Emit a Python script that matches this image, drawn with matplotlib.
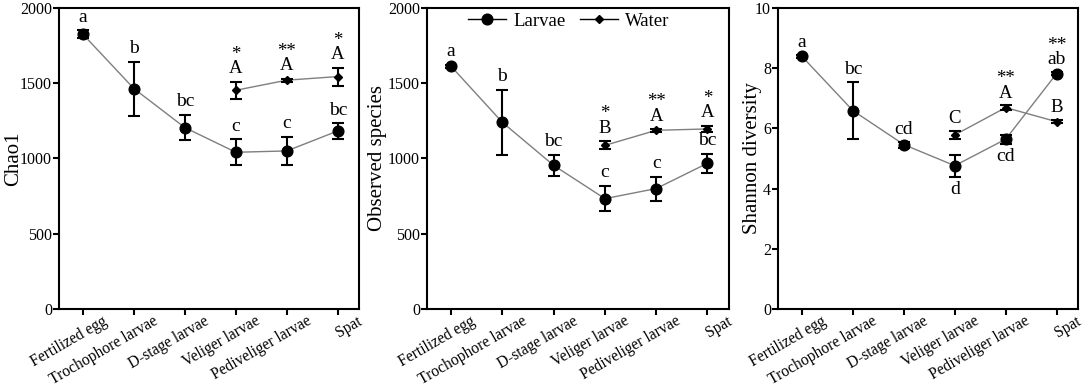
import matplotlib
matplotlib.use("Agg")
import matplotlib.pyplot as plt
import matplotlib.transforms as mtransforms
from matplotlib.lines import Line2D

plt.rcParams["font.family"] = ["Liberation Serif", "DejaVu Serif"]

stages = ["Fertilized egg", "Trochophore larvae", "D-stage larvae",
          "Veliger larvae", "Pediveliger larvae", "Spat"]
water_idx = [3, 4, 5]

# Chao1
chao_larvae = [1825, 1464, 1205, 1041, 1050, 1183]
chao_larvae_err = [25, 180, 85, 85, 95, 52]
chao_water = [1453, 1520, 1544]
chao_water_err = [55, 10, 60]
chao_larvae_lbl = ["a", "b", "bc", "c", "c", "bc"]
chao_water_lbl = ["*\nA", "**\nA", "*\nA"]

# Observed species
obs_larvae = [1612, 1240, 954, 733, 800, 968]
obs_larvae_err = [10, 215, 70, 85, 80, 62]
obs_water = [1087, 1187, 1196]
obs_water_err = [27, 8, 20]
obs_larvae_lbl = ["a", "b", "bc", "c", "c", "bc"]
obs_water_lbl = ["*\nB", "**\nA", "*\nA"]

# Shannon
sh_larvae = [8.39, 6.59, 5.46, 4.76, 5.64, 7.82]
sh_larvae_err = [0.06, 0.95, 0.1, 0.37, 0.15, 0.05]
sh_water = [5.78, 6.69, 6.22]
sh_water_err = [0.12, 0.07, 0.05]
sh_larvae_lbl = ["a", "bc", "cd", "d", "cd", "**\nab"]
sh_larvae_below = [False, False, False, True, True, False]
sh_water_lbl = ["C", "**\nA", "B"]

LINE_C = "#7f7f7f"


def panel(ax, ylab, ymax, ystep, larv, larv_e, wat, wat_e, llbl, wlbl, below=None, off=0.0):
    x = list(range(len(stages)))
    ax.plot(x, larv, color=LINE_C, lw=1.0, zorder=1)
    ax.errorbar(x, larv, yerr=larv_e, fmt="o", color="black", ms=7.7, elinewidth=1.5,
                capsize=4, capthick=1.5, zorder=3)
    ax.plot(water_idx, wat, color=LINE_C, lw=1.0, zorder=1)
    ax.errorbar(water_idx, wat, yerr=wat_e, fmt="D", color="black", ms=4.5, elinewidth=1.5,
                capsize=4, capthick=1.5, zorder=3)
    below = below or [False] * len(stages)
    for i in x:
        if below[i]:
            ax.text(i, larv[i] - larv_e[i] - off, llbl[i], ha="center", va="top",
                    fontsize=14, linespacing=0.8)
        else:
            ax.text(i, larv[i] + larv_e[i] + off, llbl[i], ha="center", va="bottom",
                    fontsize=14, linespacing=0.8)
    for j, i in enumerate(water_idx):
        ax.text(i, wat[j] + wat_e[j] + off, wlbl[j], ha="center", va="bottom",
                fontsize=13.5, linespacing=0.8)
    ax.set_xlim(-0.47, 5.42)
    ax.set_ylim(0, ymax)
    ax.set_yticks([v * ystep for v in range(int(ymax / ystep) + 1)])
    ax.set_xticks(x)
    ax.set_xticklabels([])
    # rotated category labels, right end a bit past the tick (as in the original)
    tr = ax.get_xaxis_transform() + mtransforms.ScaledTranslation(
        0.19, -0.04, ax.figure.dpi_scale_trans)
    for i, s in zip(x, stages):
        ax.text(i, 0, s, transform=tr, rotation=30, ha="right", va="top",
                rotation_mode="anchor", fontsize=11.2)
    ax.tick_params(axis="y", labelsize=11.5, width=1.5, length=4, direction="out", pad=1)
    ax.tick_params(axis="x", width=1.5, length=4, direction="out")
    for sp in ax.spines.values():
        sp.set_linewidth(1.5)
    ax.set_ylabel(ylab, fontsize=15)


fig = plt.figure(figsize=(10.84, 3.86), dpi=100)
ax1 = fig.add_axes([0.0544, 0.1995, 0.277, 0.780])
ax2 = fig.add_axes([0.3939, 0.1995, 0.2786, 0.780])
ax3 = fig.add_axes([0.7177, 0.1995, 0.2768, 0.780])

panel(ax1, "Chao1", 2000, 500, chao_larvae, chao_larvae_err, chao_water, chao_water_err,
      chao_larvae_lbl, chao_water_lbl, off=30)
panel(ax2, "Observed species", 2000, 500, obs_larvae, obs_larvae_err, obs_water, obs_water_err,
      obs_larvae_lbl, obs_water_lbl, off=30)
panel(ax3, "Shannon diversity", 10, 2, sh_larvae, sh_larvae_err, sh_water, sh_water_err,
      sh_larvae_lbl, sh_water_lbl, below=sh_larvae_below, off=0.13)

handles = [Line2D([], [], color="black", lw=1.0, marker="o", ms=7.7),
           Line2D([], [], color="black", lw=1.0, marker="D", ms=4.5)]
ax2.legend(handles, ["Larvae", "Water"], loc="upper center", bbox_to_anchor=(0.47, 1.01),
           ncol=2, frameon=False, fontsize=13.5, handlelength=2.0, columnspacing=0.8,
           handletextpad=0.4, borderaxespad=0.0)

ax1.yaxis.set_label_coords(-0.118, 0.5)
ax2.yaxis.set_label_coords(-0.132, 0.5)
ax3.yaxis.set_label_coords(-0.053, 0.5)

fig.savefig("out.png", dpi=100)
